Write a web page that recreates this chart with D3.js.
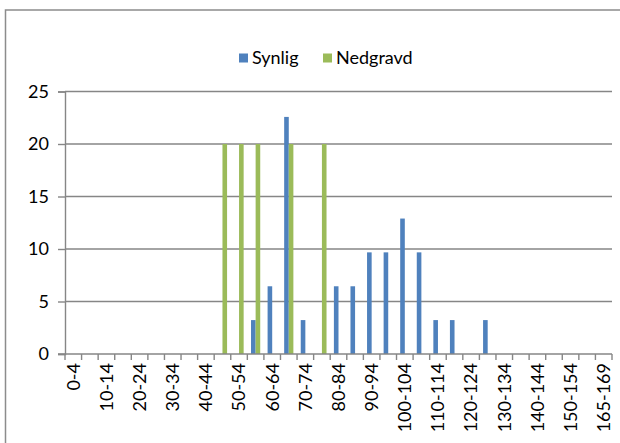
<!DOCTYPE html>
<html>
<head>
<meta charset="utf-8">
<script src="https://cdn.jsdelivr.net/npm/d3@7"></script>
<style>
  html, body { margin: 0; padding: 0; background: #fff; }
  svg { display: block; font-family: Lato, "Open Sans", sans-serif; }
</style>
</head>
<body>
<svg id="chart" width="620" height="443"></svg>
<script>
// Length classes (cm)
const categories = [
  "0-4","5-9","10-14","15-19","20-24","25-29","30-34","35-39","40-44","45-49",
  "50-54","55-59","60-64","65-69","70-74","75-79","80-84","85-89","90-94","95-99",
  "100-104","105-109","110-114","115-119","120-124","125-129","130-134","135-139",
  "140-144","145-149","150-154","155-159","165-169"
];
// Share of individuals per class (%)
const synlig = [
  0,0,0,0,0,0,0,0,0,0,
  0,3.23,6.45,22.58,3.23,0,6.45,6.45,9.68,9.68,
  12.9,9.68,3.23,3.23,0,3.23,0,0,
  0,0,0,0,0
];
const nedgravd = [
  0,0,0,0,0,0,0,0,0,20,
  20,20,0,20,0,20,0,0,0,0,
  0,0,0,0,0,0,0,0,
  0,0,0,0,0
];
const seriesNames = ["Synlig", "Nedgravd"];
const seriesColors = ["#4F81BD", "#9BBB59"];
const yTicks = [0, 5, 10, 15, 20, 25];

const rows = categories.map((c, i) => ({ cat: c, values: [synlig[i], nedgravd[i]] }));

const svg = d3.select("#chart");
const gridColor = "#868686";
const fontSize = 18;

// Chart area frame
svg.append("rect")
  .attr("x", 5.5).attr("y", 10)
  .attr("width", 660).attr("height", 480)
  .attr("fill", "none")
  .attr("stroke", "#8c8c8c")
  .attr("stroke-width", 1.5);

const plot = { left: 65, right: 612, top: 91.5, bottom: 354 };

const x = d3.scaleBand()
  .domain(categories)
  .range([plot.left, plot.right])
  .padding(0);

const xs = d3.scaleBand()
  .domain(seriesNames)
  .range([0, x.step()])
  .paddingInner(0)
  .paddingOuter(0.8);

const y = d3.scaleLinear()
  .domain([0, 25])
  .range([plot.bottom, plot.top]);

// Horizontal gridlines
svg.append("g")
  .selectAll("line")
  .data(yTicks.filter(t => t > 0))
  .join("line")
  .attr("x1", plot.left).attr("x2", plot.right)
  .attr("y1", d => y(d)).attr("y2", d => y(d))
  .attr("stroke", gridColor)
  .attr("stroke-width", 1.4);

// Value axis
const yAxis = svg.append("g")
  .attr("transform", `translate(${plot.left},0)`)
  .call(d3.axisLeft(y).tickValues(yTicks).tickSize(7).tickPadding(9).tickFormat(d3.format("d")));
yAxis.select(".domain").attr("stroke", gridColor).attr("stroke-width", 1.4);
yAxis.selectAll(".tick line").attr("stroke", gridColor).attr("stroke-width", 1.4);
yAxis.selectAll(".tick text")
  .attr("fill", "#000")
  .style("font-size", fontSize + "px")
  .style("font-family", "Lato, sans-serif");

// Bars
const groups = svg.append("g")
  .selectAll("g")
  .data(rows)
  .join("g")
  .attr("transform", d => `translate(${x(d.cat)},0)`);

groups.selectAll("rect")
  .data(d => d.values.map((v, k) => ({ key: seriesNames[k], value: v, color: seriesColors[k] })))
  .join("rect")
  .attr("x", d => xs(d.key))
  .attr("width", xs.bandwidth())
  .attr("y", d => y(d.value))
  .attr("height", d => y(0) - y(d.value))
  .attr("fill", d => d.color);

// Category axis
const boundaries = categories.map(c => x(c)).concat([x.range()[1]]);
const xAxis = svg.append("g");
xAxis.append("line")
  .attr("x1", plot.left - 7).attr("x2", plot.right)
  .attr("y1", y(0)).attr("y2", y(0))
  .attr("stroke", gridColor).attr("stroke-width", 1.4);
xAxis.selectAll("line.tick")
  .data(boundaries)
  .join("line")
  .attr("class", "tick")
  .attr("x1", d => d).attr("x2", d => d)
  .attr("y1", y(0)).attr("y2", y(0) + 6)
  .attr("stroke", gridColor).attr("stroke-width", 1.4);

xAxis.selectAll("text")
  .data(categories.filter((c, i) => i % 2 === 0))
  .join("text")
  .attr("transform", d => `translate(${x(d) + x.bandwidth() / 2},${y(0) + 9}) rotate(-90)`)
  .attr("text-anchor", "end")
  .attr("dy", "0.35em")
  .style("font-size", fontSize + "px")
  .text(d => d);

// Legend
const legend = svg.append("g").attr("transform", "translate(239,58)");
const legendX = [0, 84];
seriesNames.forEach((name, k) => {
  const g = legend.append("g").attr("transform", `translate(${legendX[k]},0)`);
  g.append("rect")
    .attr("x", 0).attr("y", -4.5)
    .attr("width", 9).attr("height", 9)
    .attr("fill", seriesColors[k]);
  g.append("text")
    .attr("x", 13).attr("y", 0)
    .attr("dy", "0.35em")
    .style("font-size", fontSize + "px")
    .text(name);
});
</script>
</body>
</html>
